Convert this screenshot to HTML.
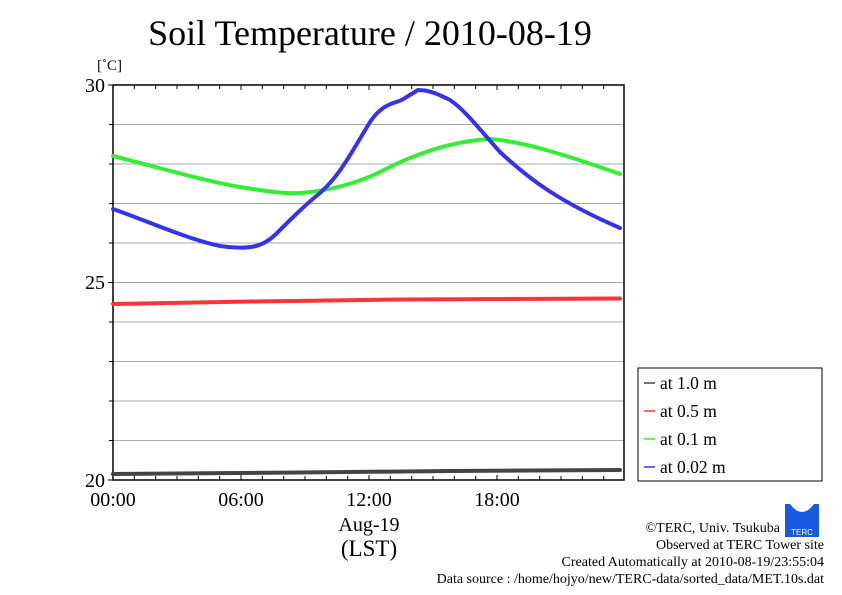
<!DOCTYPE html>
<html><head><style>body{margin:0;background:#fff}svg{display:block}</style></head><body>
<svg width="842" height="595" xmlns="http://www.w3.org/2000/svg" font-family="Liberation Serif, serif">
<rect width="842" height="595" fill="#fff"/>
<text x="370" y="45" font-size="36" text-anchor="middle">Soil Temperature / 2010-08-19</text>
<text x="97" y="70" font-size="15">[˚C]</text>
<g stroke="#aaa" stroke-width="1">
<line x1="113" y1="124.5" x2="624" y2="124.5"/><line x1="113" y1="164" x2="624" y2="164"/><line x1="113" y1="203.5" x2="624" y2="203.5"/><line x1="113" y1="243" x2="624" y2="243"/>
<line x1="113" y1="282.5" x2="624" y2="282.5"/><line x1="113" y1="322" x2="624" y2="322"/><line x1="113" y1="361.5" x2="624" y2="361.5"/><line x1="113" y1="401" x2="624" y2="401"/><line x1="113" y1="440.5" x2="624" y2="440.5"/>
</g>
<g stroke="#000" stroke-width="1">
<path d="M113 85 V480 H624 V85 Z" fill="none" stroke-width="1.5"/>
<path d="M108 85H113M108 282.5H113M108 480H113M109 124.5H113M109 164H113M109 203.5H113M109 243H113M109 322H113M109 361.5H113M109 401H113M109 440.5H113"/>
<path d="M134.3 85v4M155.7 85v4M177 85v4M198.3 85v4M219.7 85v4M241 85v5M262.3 85v4M283.7 85v4M305 85v4M326.3 85v4M347.7 85v4M369 85v5M390.3 85v4M411.7 85v4M433 85v4M454.3 85v4M475.7 85v4M497 85v5M518.3 85v4M539.7 85v4M561 85v4M582.3 85v4M603.7 85v4"/>
<path d="M134.3 480v-4M155.7 480v-4M177 480v-4M198.3 480v-4M219.7 480v-4M241 480v-5M262.3 480v-4M283.7 480v-4M305 480v-4M326.3 480v-4M347.7 480v-4M369 480v-5M390.3 480v-4M411.7 480v-4M433 480v-4M454.3 480v-4M475.7 480v-4M497 480v-5M518.3 480v-4M539.7 480v-4M561 480v-4M582.3 480v-4M603.7 480v-4"/>
</g>
<g font-size="20" text-anchor="end"><text x="105" y="92">30</text><text x="105" y="289">25</text><text x="105" y="487">20</text></g>
<g font-size="20" text-anchor="middle"><text x="113" y="506">00:00</text><text x="241" y="506">06:00</text><text x="369" y="506">12:00</text><text x="497" y="506">18:00</text>
<text x="369" y="531">Aug-19</text><text x="369" y="556" font-size="23">(LST)</text></g>
<g fill="none" stroke-width="4" stroke-linejoin="round" stroke-linecap="round">
<path stroke="#444" d="M113 474 L300 472.5 L450 471 L620 470"/>
<path stroke="#f33" d="M113 304 L250 301.5 L400 299.5 L620 298.5"/>
<path stroke="#3e3" d="M113 156 C150 165 200 180 240 187 C265 191 285 194 300 193 C330 191 360 182 380 172 C410 156 450 141 490 139 C520 141 560 153 620 174"/>
<path stroke="#33e" d="M113 209 C150 222 190 240 220 246 C250 250 262 247 275 235 C290 220 305 205 320 193 C340 175 350 155 370 122 C385 100 398 104 405 98 L418 90 C430 90 440 95 450 100 C465 110 480 130 500 152 C530 180 560 202 620 228"/>
</g>
<rect x="638" y="368" width="184" height="113" fill="#fff" stroke="#000" stroke-width="1"/>
<g stroke-width="1.5"><line x1="644" y1="383" x2="655" y2="383" stroke="#444"/><line x1="644" y1="411" x2="655" y2="411" stroke="#f33"/><line x1="644" y1="439" x2="655" y2="439" stroke="#3e3"/><line x1="644" y1="467" x2="655" y2="467" stroke="#33e"/></g>
<g font-size="17.5"><text x="660" y="389">at 1.0 m</text><text x="660" y="417">at 0.5 m</text><text x="660" y="445">at 0.1 m</text><text x="660" y="473">at 0.02 m</text></g>
<rect x="785" y="504" width="34" height="33" fill="#1a5ae0"/>
<path d="M790 504 Q802 520 814 504 Z" fill="#fff"/>
<text x="802" y="535" font-size="8" fill="#fff" text-anchor="middle" font-family="Liberation Sans, sans-serif">TERC</text>
<g font-size="14" text-anchor="end"><text x="780" y="532">©TERC, Univ. Tsukuba</text><text x="824" y="549">Observed at TERC Tower site</text><text x="824" y="566">Created Automatically at 2010-08-19/23:55:04</text><text x="824" y="583">Data source : /home/hojyo/new/TERC-data/sorted_data/MET.10s.dat</text></g>
</svg>
</body></html>
